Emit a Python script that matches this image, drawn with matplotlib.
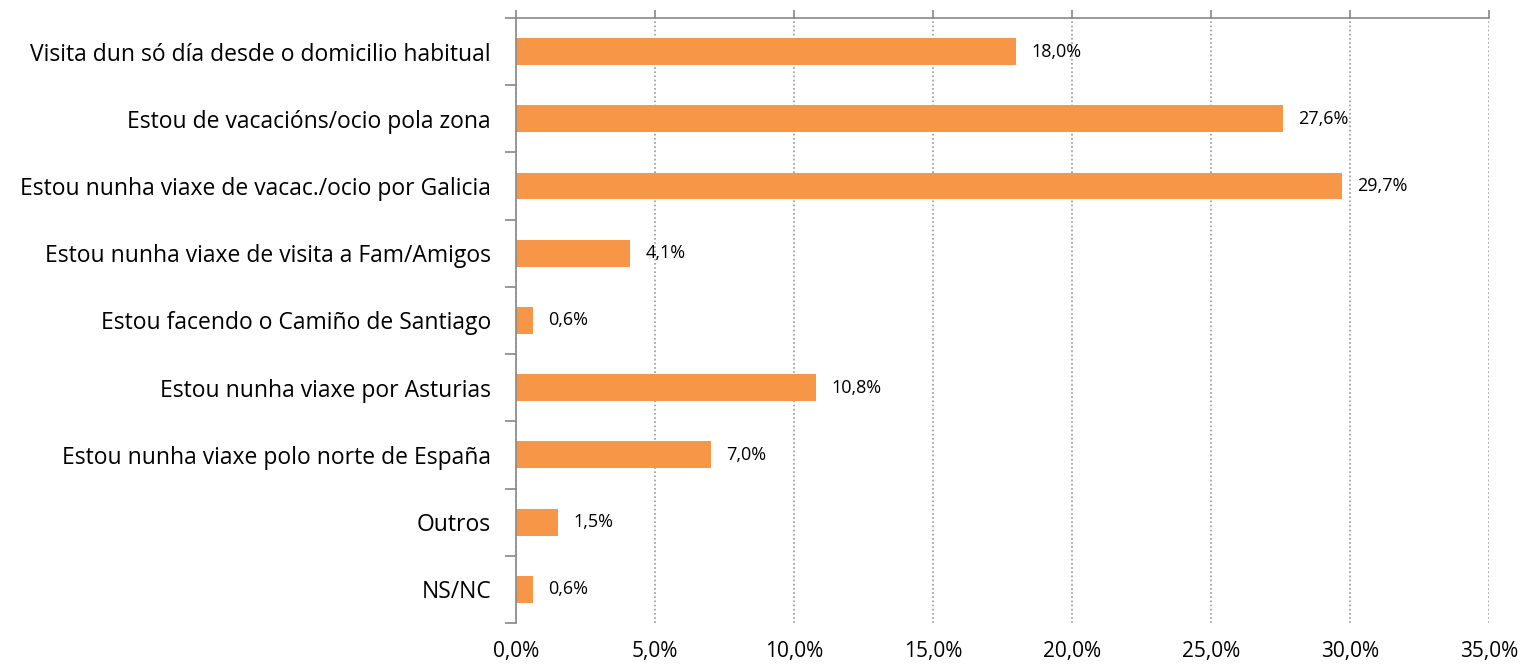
import matplotlib.pyplot as plt
from matplotlib.ticker import MultipleLocator, FuncFormatter

categorias = [
    "Visita dun só día desde o domicilio habitual",
    "Estou de vacacións/ocio pola zona",
    "Estou nunha viaxe de vacac./ocio por Galicia",
    "Estou nunha viaxe de visita a Fam/Amigos",
    "Estou facendo o Camiño de Santiago",
    "Estou nunha viaxe por Asturias",
    "Estou nunha viaxe polo norte de España",
    "Outros",
    "NS/NC",
]
porcentaxes = [18.0, 27.6, 29.7, 4.1, 0.6, 10.8, 7.0, 1.5, 0.6]

plt.rcParams['font.family'] = ['Open Sans', 'DejaVu Sans']

fig = plt.figure(figsize=(15.25, 6.65), dpi=100)
ax = fig.add_axes([0.3384, 0.0632, 0.6380, 0.9098])

y = list(range(len(categorias)))
ax.barh(y, porcentaxes, height=0.4, color='#F79646', zorder=2)

for yi, v in zip(y, porcentaxes):
    ax.annotate(f"{v:.1f}%".replace('.', ','), (v, yi), xytext=(11, 0),
                textcoords='offset points', va='center', ha='left', fontsize=13)

ax.set_ylim(len(categorias) - 0.5, -0.5)
ax.set_xlim(0, 35)
ax.set_yticks(y)
ax.set_yticklabels(categorias, fontsize=16.5)
ax.yaxis.set_minor_locator(MultipleLocator(1, offset=0.5))
ax.tick_params(axis='y', which='major', length=0, pad=18)
ax.tick_params(axis='y', which='minor', length=8, color='#888888', width=1.2)

ax.xaxis.set_major_locator(MultipleLocator(5))
ax.xaxis.set_major_formatter(FuncFormatter(lambda x, p: f"{x:.1f}%".replace('.', ',')))
ax.tick_params(axis='x', top=True, bottom=False, labelbottom=True, labeltop=False,
               length=6, color='#888888', width=1.2, labelsize=15, pad=7)
ax.grid(axis='x', linestyle=(0, (1, 1.5)), color='#999999', linewidth=1.2, zorder=0)

for s in ['right', 'bottom']:
    ax.spines[s].set_visible(False)
for s in ['left', 'top']:
    ax.spines[s].set_color('#888888')
    ax.spines[s].set_linewidth(1.2)

plt.savefig('out.png', dpi=100)
